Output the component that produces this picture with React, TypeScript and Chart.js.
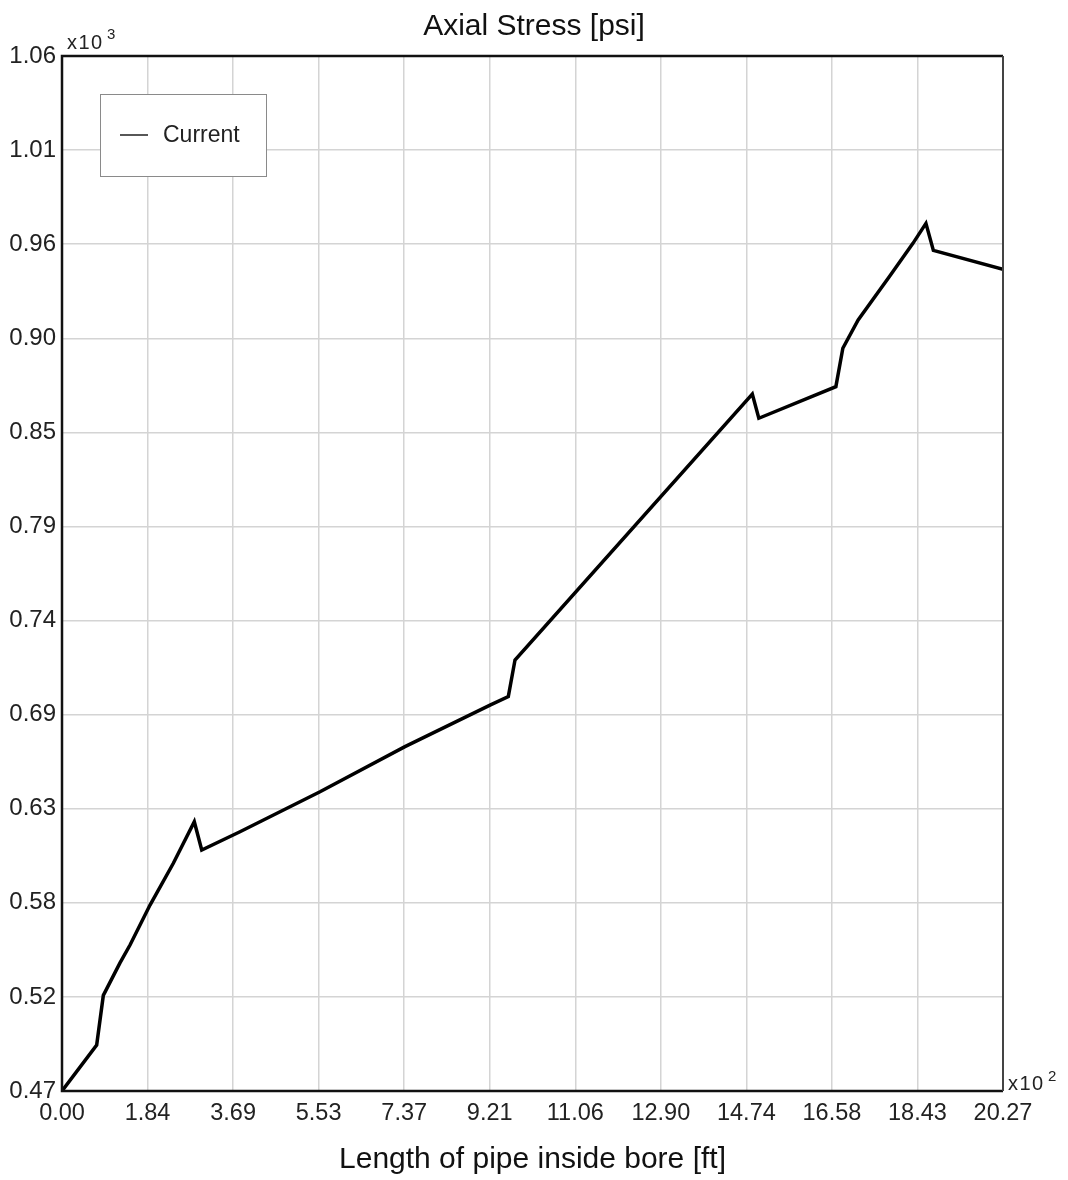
import { useEffect, useRef } from 'react';
import { Chart, registerables } from 'chart.js';

Chart.register(...registerables);

const FONT = '"Liberation Sans", Arial, Helvetica, sans-serif';

// Length of pipe inside bore, in hundreds of ft (x10^2)
const lengthX = [
  0, 0.747, 0.89, 1.249, 1.465, 1.896, 2.398, 2.85, 3.01, 3.834, 5.558, 7.388, 9.22, 9.614,
  9.758, 14.87, 15.01, 16.67, 16.82, 17.15, 17.82, 18.33, 18.61, 18.77, 20.27,
];
// Axial stress, in thousands of psi (x10^3)
const stressY = [
  0.47, 0.4962, 0.5245, 0.543, 0.5532, 0.576, 0.5998, 0.6235, 0.6074, 0.6178, 0.6406, 0.6663,
  0.69, 0.6948, 0.7157, 0.8673, 0.8535, 0.8715, 0.8934, 0.9095, 0.9342, 0.9532, 0.9646, 0.9492,
  0.9384,
];

const xTickLabels = ['0.00', '1.84', '3.69', '5.53', '7.37', '9.21', '11.06', '12.90', '14.74', '16.58', '18.43', '20.27'];
const yTickLabels = ['0.47', '0.52', '0.58', '0.63', '0.69', '0.74', '0.79', '0.85', '0.90', '0.96', '1.01', '1.06'];
const xMin = 0;
const xMax = 20.27;
const yMin = 0.47;
const yMax = 1.06;

const seriesName = 'Current';
const chartTitle = 'Axial Stress [psi]';
const xTitle = 'Length of pipe inside bore [ft]';
const xExponent = '2';
const yExponent = '3';

export default function App() {
  const ref = useRef<HTMLCanvasElement>(null);

  useEffect(() => {
    document.body.style.margin = '0';
    document.body.style.overflow = 'hidden';
    const canvas = ref.current!;

    const decorations = {
      id: 'decorations',
      afterDraw(chart: any) {
        const { ctx, chartArea: a } = chart;
        ctx.save();
        // legend box
        const lx = a.left + 38.5;
        const ly = a.top + 38.5;
        ctx.fillStyle = '#ffffff';
        ctx.fillRect(lx, ly, 166, 82);
        ctx.strokeStyle = '#8a8a8a';
        ctx.lineWidth = 1;
        ctx.strokeRect(lx, ly, 166, 82);
        ctx.strokeStyle = '#444444';
        ctx.lineWidth = 1.8;
        ctx.beginPath();
        ctx.moveTo(a.left + 58, a.top + 79);
        ctx.lineTo(a.left + 86, a.top + 79);
        ctx.stroke();
        ctx.fillStyle = '#222222';
        ctx.font = `23px ${FONT}`;
        ctx.textBaseline = 'middle';
        ctx.textAlign = 'left';
        ctx.fillText(seriesName, a.left + 101, a.top + 80);

        // frame
        ctx.lineWidth = 2.5;
        ctx.strokeStyle = '#111111';
        ctx.beginPath();
        ctx.moveTo(a.right, a.top);
        ctx.lineTo(a.left, a.top);
        ctx.lineTo(a.left, a.bottom);
        ctx.lineTo(a.right, a.bottom);
        ctx.stroke();
        ctx.strokeStyle = '#444444';
        ctx.lineWidth = 2;
        ctx.beginPath();
        ctx.moveTo(a.right, a.top);
        ctx.lineTo(a.right, a.bottom);
        ctx.stroke();

        // exponent labels
        ctx.fillStyle = '#222222';
        ctx.textBaseline = 'alphabetic';
        (ctx as any).letterSpacing = '1.5px';
        ctx.font = `20px ${FONT}`;
        ctx.fillText('x10', a.left + 5, a.top - 7.5);
        ctx.fillText('x10', a.right + 5, a.bottom - 1);
        (ctx as any).letterSpacing = '0px';
        ctx.font = `15px ${FONT}`;
        ctx.fillText(yExponent, a.left + 45, a.top - 17);
        ctx.fillText(xExponent, a.right + 45, a.bottom - 10);
        ctx.restore();
      },
    };

    const chart = new Chart(canvas, {
      type: 'line',
      data: {
        datasets: [
          {
            label: seriesName,
            data: lengthX.map((x, i) => ({ x, y: stressY[i] })),
            borderColor: '#000000',
            borderWidth: 3.5,
            borderJoinStyle: 'miter',
            pointRadius: 0,
            tension: 0,
            fill: false,
            yAxisID: 'y',
          },
        ],
      },
      options: {
        responsive: false,
        animation: false,
        devicePixelRatio: 1,
        layout: { padding: 0 },
        plugins: {
          legend: { display: false },
          tooltip: { enabled: false },
          title: {
            display: true,
            text: chartTitle,
            color: '#111111',
            font: { family: FONT, size: 30, weight: 'normal' },
            padding: { top: 9, bottom: 11 },
          },
        },
        scales: {
          x: {
            type: 'linear',
            min: xMin,
            max: xMax,
            afterFit: (scale: any) => {
              scale.height = 89;
            },
            afterBuildTicks: (scale: any) => {
              scale.ticks = xTickLabels.map((_, i) => ({
                value: xMin + (i * (xMax - xMin)) / (xTickLabels.length - 1),
              }));
            },
            ticks: {
              autoSkip: false,
              maxRotation: 0,
              padding: 8,
              color: '#222222',
              font: { family: FONT, size: 23.5 },
              callback: (_v: any, i: number) => xTickLabels[i],
            },
            grid: { color: '#d4d4d4', lineWidth: 1.5, drawTicks: false },
            border: { display: false },
            title: {
              display: true,
              text: xTitle,
              color: '#111111',
              font: { family: FONT, size: 30 },
              padding: { top: 0, bottom: 2 },
            },
          },
          y: {
            type: 'linear',
            position: 'left',
            min: yMin,
            max: yMax,
            afterFit: (scale: any) => {
              scale.width = 62;
            },
            afterBuildTicks: (scale: any) => {
              scale.ticks = yTickLabels.map((_, i) => ({
                value: yMin + (i * (yMax - yMin)) / (yTickLabels.length - 1),
              }));
            },
            ticks: {
              autoSkip: false,
              padding: 6,
              color: '#222222',
              font: { family: FONT, size: 24 },
              callback: (_v: any, i: number) => yTickLabels[i],
            },
            grid: { color: '#d4d4d4', lineWidth: 1.5, drawTicks: false },
            border: { display: false },
          },
          yRight: {
            type: 'linear',
            position: 'right',
            min: yMin,
            max: yMax,
            afterFit: (scale: any) => {
              scale.width = 65;
            },
            ticks: { display: false },
            grid: { display: false, drawTicks: false },
            border: { display: false },
          },
        },
      },
      plugins: [decorations],
    } as any);

    return () => chart.destroy();
  }, []);

  return (
    <div style={{ width: 1068, height: 1180 }}>
      <canvas ref={ref} width={1068} height={1180} style={{ display: 'block' }} />
    </div>
  );
}
